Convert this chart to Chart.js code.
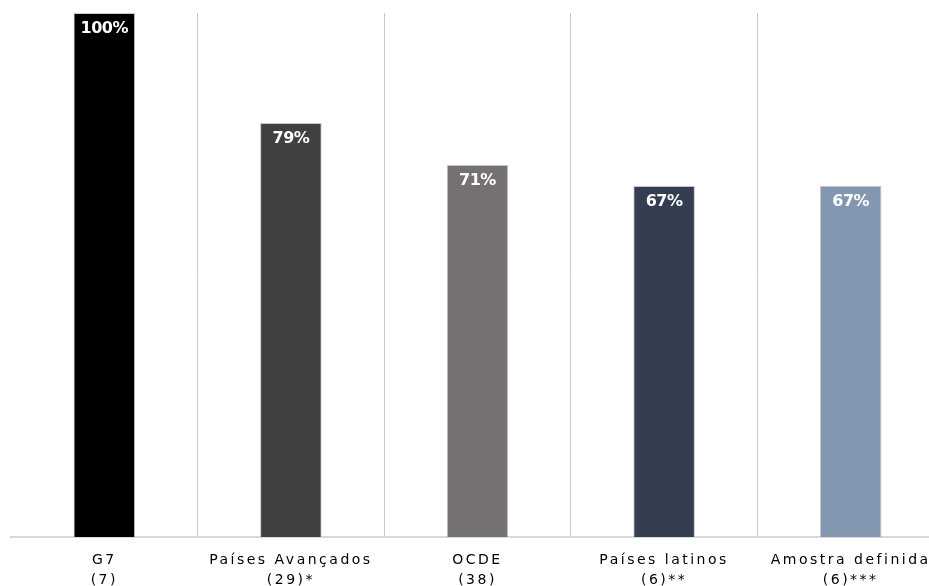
<!DOCTYPE html>
<html>
<head>
<meta charset="utf-8">
<script src="https://cdn.jsdelivr.net/npm/chart.js@4"></script>
<style>
  html, body { margin: 0; padding: 0; background: #ffffff; overflow: hidden; }
  #wrap { position: relative; width: 944px; height: 586px; }
</style>
</head>
<body>
<div id="wrap"><canvas id="c"></canvas></div>
<script>
// Group names (two-line tick labels) and their shares
const categories = [
  ['G7', '(7)'],
  ['Países Avançados', '(29)*'],
  ['OCDE', '(38)'],
  ['Países latinos', '(6)**'],
  ['Amostra definida', '(6)***']
];
const values = [100, 79, 71, 67, 67];
const valueLabels = ['100%', '79%', '71%', '67%', '67%'];
const barColors = ['#000000', '#404040', '#767171', '#333f50', '#8497b0'];

// White value text placed just inside the top of each bar
const valueLabelPlugin = {
  id: 'valueLabels',
  afterDatasetsDraw(chart) {
    const ctx = chart.ctx;
    const meta = chart.getDatasetMeta(0);
    ctx.save();
    ctx.letterSpacing = '-0.5px';
    ctx.font = 'bold 16px "DejaVu Sans", sans-serif';
    ctx.fillStyle = '#ffffff';
    ctx.textAlign = 'center';
    ctx.textBaseline = 'middle';
    meta.data.forEach((bar, i) => {
      ctx.fillText(valueLabels[i], bar.x, bar.y + 16);
    });
    ctx.restore();
  }
};

// Spaced-out lettering for the category names
const spacedTicks = {
  id: 'spacedTicks',
  beforeDraw(chart) { chart.ctx.letterSpacing = '2.5px'; }
};

new Chart(document.getElementById('c'), {
  type: 'bar',
  data: {
    labels: categories,
    datasets: [{
      data: values,
      backgroundColor: barColors,
      borderColor: 'rgba(160,160,160,0.6)',
      borderWidth: 1,
      categoryPercentage: 1,
      barPercentage: 0.33
    }]
  },
  options: {
    responsive: true,
    maintainAspectRatio: false,
    animation: false,
    layout: { padding: { left: 11, right: 0, top: 13, bottom: 0 } },
    plugins: { legend: { display: false }, tooltip: { enabled: false } },
    scales: {
      y: { display: false, min: 0, max: 100 },
      x: {
        offset: true,
        grid: {
          offset: true,
          drawTicks: false,
          lineWidth: 1,
          color: (c) => (c.index === 0 || c.index === categories.length) ? 'rgba(0,0,0,0)' : '#c8c8c8'
        },
        border: { display: true, color: '#d9d9d9', width: 2 },
        ticks: {
          color: '#000000',
          padding: 13,
          maxRotation: 0,
          autoSkip: false,
          font: { family: '"DejaVu Sans", sans-serif', size: 14, lineHeight: 1.43 }
        },
        afterFit(scale) { scale.height = 49; }
      }
    }
  },
  plugins: [spacedTicks, valueLabelPlugin]
});
</script>
</body>
</html>
